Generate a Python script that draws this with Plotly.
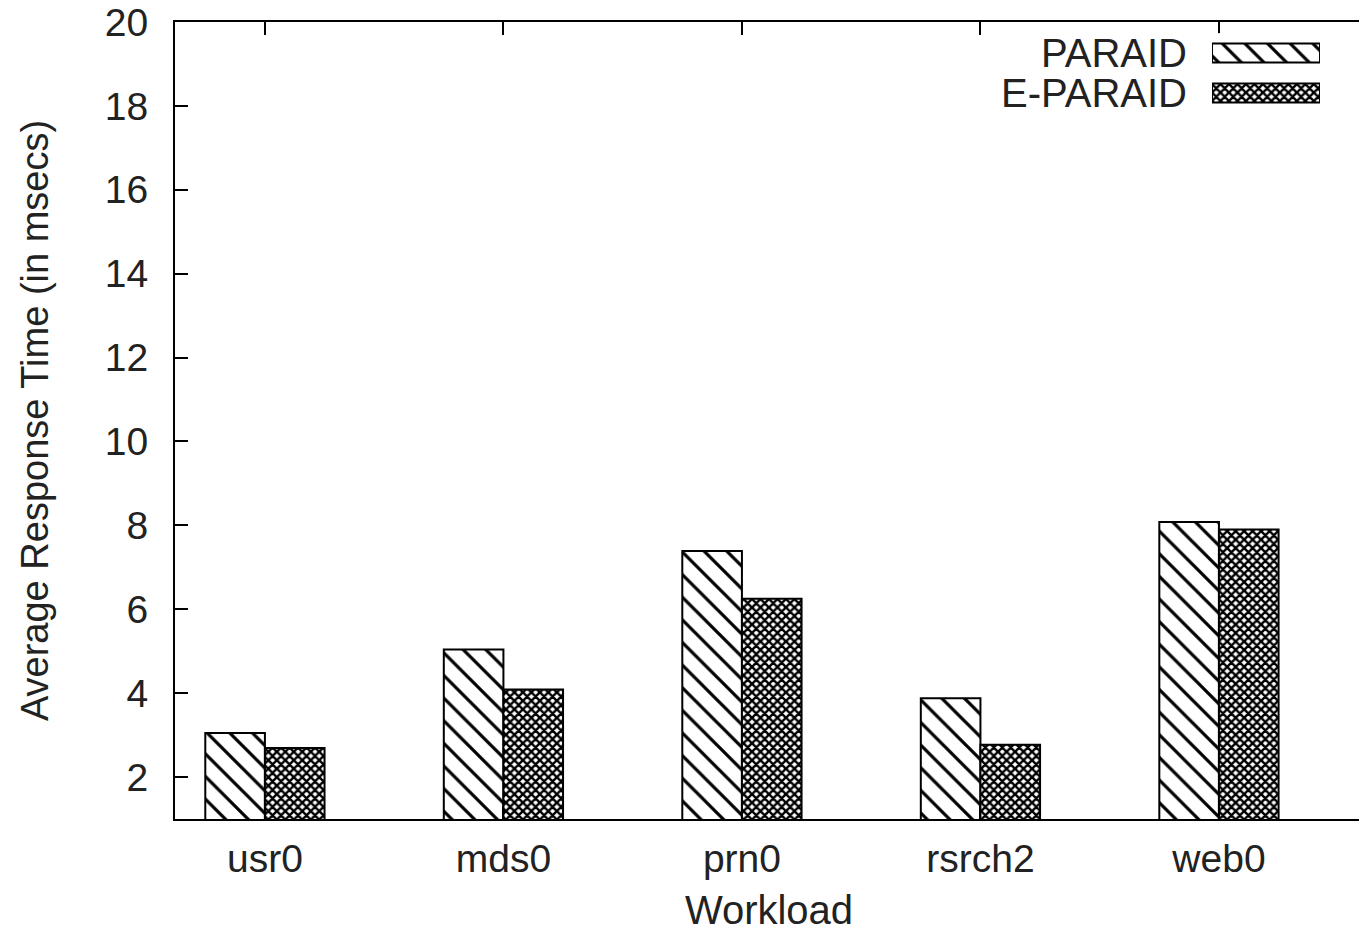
import plotly.graph_objects as go

categories = ["usr0", "mds0", "prn0", "rsrch2", "web0"]
series_names = ["PARAID", "E-PARAID"]
paraid = [3.05, 5.04, 7.39, 3.88, 8.08]
eparaid = [2.69, 4.09, 6.25, 2.77, 7.90]
y_ticks = [2, 4, 6, 8, 10, 12, 14, 16, 18, 20]

FONT = "Liberation Sans, Arial, sans-serif"
TXT = "#222"
patterns = [
    dict(shape="\\", size=16, solidity=0.2, fgcolor="black", bgcolor="white", fgopacity=1),
    dict(shape="x", size=6, solidity=0.65, fgcolor="black", bgcolor="white", fgopacity=1),
]
line = dict(color="black", width=2)

fig = go.Figure()
for name, vals, pat, off in zip(series_names, [paraid, eparaid], patterns, [-0.25, 0.0]):
    fig.add_trace(go.Bar(
        x=categories, y=vals, name=name, width=0.25, offset=off,
        marker=dict(color="white", pattern=pat, line=line),
        showlegend=False, xaxis="x", yaxis="y",
    ))

# legend drawn as a small inset axis (text on the left, swatch on the right)
for name, pat in zip(series_names, patterns):
    fig.add_trace(go.Bar(
        y=[name], x=[1], orientation="h", width=0.475, offset=-0.2375,
        marker=dict(color="white", pattern=pat, line=line),
        showlegend=False, xaxis="x2", yaxis="y3", hoverinfo="skip",
    ))

fig.update_layout(
    width=1363, height=932,
    margin=dict(l=175, r=0, t=22, b=113, autoexpand=False),
    paper_bgcolor="white", plot_bgcolor="white",
    barmode="overlay",
    font=dict(family=FONT, size=39, color=TXT),
    xaxis=dict(
        type="category", categoryorder="array", categoryarray=categories,
        range=[-0.377, 4.604], automargin=False,
        showline=True, linecolor="black", linewidth=2, mirror="ticks",
        ticks="inside", ticklen=13, tickwidth=1.5, tickcolor="black",
        showgrid=False, zeroline=False,
        tickfont=dict(size=39, family=FONT, color=TXT),
        ticklabelstandoff=4, ticklabeloverflow="allow",
        title=dict(text="Workload", font=dict(size=40, family=FONT, color=TXT), standoff=25),
    ),
    yaxis=dict(
        range=[1, 20], tickvals=y_ticks, automargin=False,
        showline=True, linecolor="black", linewidth=2,
        ticks="inside", ticklen=13, tickwidth=1.5, tickcolor="black",
        showgrid=False, zeroline=False,
        tickfont=dict(size=39, family=FONT, color=TXT),
        ticklabelstandoff=17, ticklabeloverflow="allow",
        title=dict(text="Average Response Time (in msecs)", font=dict(size=38, family=FONT, color=TXT), standoff=45),
    ),
    yaxis2=dict(
        overlaying="y", side="right", anchor="x", range=[1, 20], tickvals=y_ticks,
        showline=False, ticks="inside", ticklen=10, tickwidth=1.5, tickcolor="black",
        showticklabels=False, showgrid=False, zeroline=False, automargin=False,
    ),
    xaxis2=dict(
        domain=[0.8729, 0.9638], anchor="y3", range=[0, 1],
        visible=False, showgrid=False, zeroline=False, automargin=False,
    ),
    yaxis3=dict(
        domain=[0.886, 0.986], anchor="x2", type="category",
        categoryorder="array", categoryarray=series_names[::-1], range=[-0.5, 1.5],
        tickmode="array", tickvals=series_names, ticktext=series_names,
        showline=False, ticks="", showgrid=False, zeroline=False, automargin=False,
        tickfont=dict(size=40, family=FONT, color=TXT),
        ticklabelstandoff=24, ticklabeloverflow="allow",
    ),
)

fig.write_html(
    "out.html",
    config={"displayModeBar": False},
    post_script="document.body.style.margin='0';document.body.style.overflow='hidden';",
)
